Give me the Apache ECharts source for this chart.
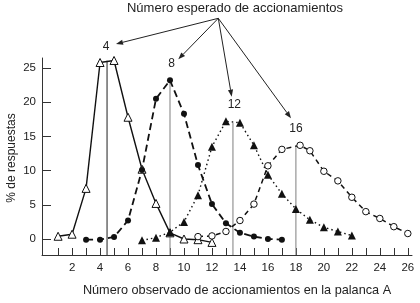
<!DOCTYPE html>
<html><head><meta charset="utf-8">
<script src="https://cdn.jsdelivr.net/npm/echarts@6/dist/echarts.min.js"></script>
<style>html,body{margin:0;background:#fff}#c{width:420px;height:303px}</style>
</head><body><div id="c"></div>
<script>
// Tick values
const xTickValues = [1,2,3,4,5,6,7,8,9,10,11,12,13,14,15,16,17,18,19,20,21,22,23,24,25,26];
const xLabelValues = [2,4,6,8,10,12,14,16,18,20,22,24,26];
const yLabelValues = [0,5,10,15,20,25];

// Series: expected 4 (open triangles, solid)
const s4x = [1,2,3,4,5,6,7,8,9,10,11,12];
const s4y = [0.4,0.7,7.4,25.8,26.1,17.8,10.2,5.2,0.9,0.0,-0.1,-0.5];
// expected 8 (filled circles, dashed)
const s8x = [3,4,5,6,7,8,9,10,11,12,13,14,15,16,17];
const s8y = [-0.1,-0.1,0.3,2.7,10.1,20.5,23.2,18.3,10.8,5.1,2.3,0.9,0.35,0.0,-0.1];
// expected 12 (filled triangles, dotted)
const s12x = [7,8,9,10,11,12,13,14,15,16,17,18,19,20,21,22];
const s12y = [-0.2,0.2,1.0,2.5,6.4,13.5,17.2,17.0,13.7,9.4,6.6,4.4,2.8,1.7,1.1,0.5];
// expected 16 (open circles, dashed)
const s16x = [11,12,13,14,15,16,17,18.3,19,20,21,22,23,24,25,26];
const s16y = [0.35,0.45,1.1,2.7,5.1,10.7,13.1,13.7,12.9,9.9,8.5,6.1,4.0,3.0,1.8,0.8];

// Reference (expected value) vertical lines
const refX = [4.5, 9, 13.5, 18];
const refTop = [26.07, 23.2, 17.0, 13.7];
const refLabels = ['4','8','12','16'];

const X_MIN = -0.15, X_MAX = 26.3, Y_MIN = -2.34, Y_MAX = 26.46;
const zip = (xs, ys) => xs.map((x, i) => [x, ys[i]]);

const chart = echarts.init(document.getElementById('c'), null, {renderer: 'canvas'});
const FONT = 'Liberation Sans, Arial, sans-serif';
const TXT = '#222';

const series = [];
refX.forEach((x, i) => {
  series.push({
    type: 'line', data: [[x, Y_MIN], [x, refTop[i]]], symbol: 'none', silent: true,
    lineStyle: {color: i === 0 ? '#333' : '#8a8a8a', width: 1.1}, z: 1
  });
});
series.push({
  type: 'line', data: zip(s4x, s4y), symbol: 'triangle', symbolSize: 8,
  itemStyle: {color: '#fff', borderColor: '#111', borderWidth: 1},
  lineStyle: {color: '#111', width: 1.4, type: 'solid'}, z: 3
});
series.push({
  type: 'line', data: zip(s8x, s8y), symbol: 'circle', symbolSize: 6,
  itemStyle: {color: '#111', borderColor: '#111', borderWidth: 0},
  lineStyle: {color: '#111', width: 1.8, type: [7, 4]}, z: 3
});
series.push({
  type: 'line', data: zip(s12x, s12y), symbol: 'triangle', symbolSize: 8,
  itemStyle: {color: '#111', borderColor: '#111', borderWidth: 0},
  lineStyle: {color: '#111', width: 1.4, type: [1.5, 3]}, z: 3
});
series.push({
  type: 'line', data: zip(s16x, s16y), symbol: 'circle', symbolSize: 6.5,
  itemStyle: {color: '#fff', borderColor: '#111', borderWidth: 1},
  lineStyle: {color: '#111', width: 1.5, type: [5, 4]}, z: 3
});

chart.setOption({
  animation: false,
  backgroundColor: '#fff',
  textStyle: {fontFamily: FONT},
  grid: {left: 42, right: 8, top: 58, bottom: 48, containLabel: false, outerBoundsMode: 'none'},
  xAxis: {
    type: 'value', min: X_MIN, max: X_MAX,
    axisLine: {show: true, onZero: false, lineStyle: {color: '#333', width: 1}},
    axisTick: {show: true, inside: true, length: 7, customValues: xTickValues, lineStyle: {color: '#333'}},
    axisLabel: {show: true, customValues: xLabelValues, color: TXT, fontSize: 11.5, fontFamily: FONT, margin: 7},
    splitLine: {show: false}
  },
  yAxis: {
    type: 'value', min: Y_MIN, max: Y_MAX,
    axisLine: {show: true, onZero: false, lineStyle: {color: '#333', width: 1}},
    axisTick: {show: true, inside: true, length: 9, customValues: yLabelValues, lineStyle: {color: '#333'}},
    axisLabel: {show: true, customValues: yLabelValues, color: TXT, fontSize: 11.5, fontFamily: FONT, margin: 6},
    splitLine: {show: false}
  },
  series: series
});

// Annotations: title, axis names, arrows, expected-value labels
const origin = [218.3, 18.3];
const arrowEnds = [[116, 44], [178.3, 59.3], [231.7, 96.7], [291, 118.3]];
const labelPos = [[106, 46.7], [171.7, 63.3], [234.3, 104.3], [296, 128.3]];
const graphics = [];
graphics.push({type: 'text', x: 235, y: 8, style: {text: 'Número esperado de accionamientos', fill: TXT, font: '13px ' + FONT, textAlign: 'center', textVerticalAlign: 'middle'}});
graphics.push({type: 'text', x: 237, y: 290, style: {text: 'Número observado de accionamientos en la palanca A', fill: TXT, font: '12.7px ' + FONT, textAlign: 'center', textVerticalAlign: 'middle'}});
graphics.push({type: 'text', x: 12, y: 158, rotation: Math.PI / 2, style: {text: '% de respuestas', fill: TXT, font: '12px ' + FONT, textAlign: 'center', textVerticalAlign: 'middle'}});
arrowEnds.forEach((e, i) => {
  const dx = e[0] - origin[0], dy = e[1] - origin[1];
  const L = Math.hypot(dx, dy), ux = dx / L, uy = dy / L;
  const hl = 7, hw = 2.6;
  const bx = e[0] - ux * hl, by = e[1] - uy * hl;
  graphics.push({type: 'line', shape: {x1: origin[0], y1: origin[1], x2: bx, y2: by}, style: {stroke: '#222', lineWidth: 1}});
  graphics.push({type: 'polygon', shape: {points: [[e[0], e[1]], [bx - uy * hw, by + ux * hw], [bx + uy * hw, by - ux * hw]]}, style: {fill: '#222'}});
  graphics.push({type: 'text', x: labelPos[i][0], y: labelPos[i][1], style: {text: refLabels[i], fill: TXT, font: '12px ' + FONT, textAlign: 'center', textVerticalAlign: 'middle'}});
});
chart.setOption({graphic: graphics});
</script>
</body></html>
